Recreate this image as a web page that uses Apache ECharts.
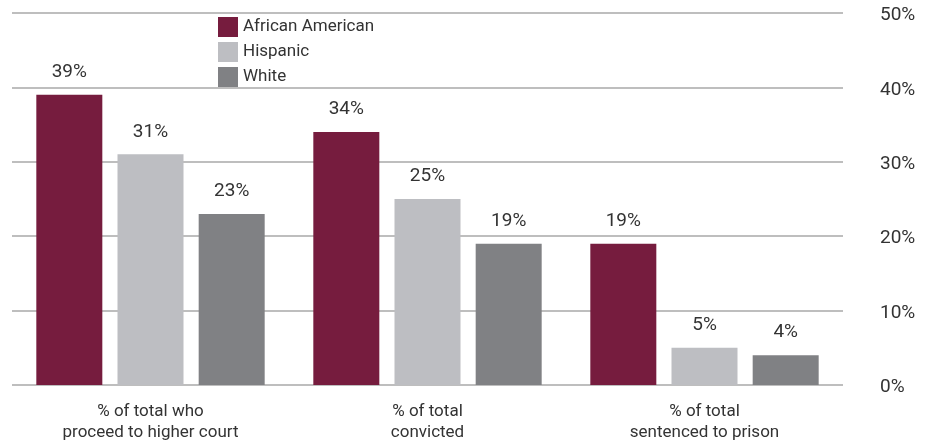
<!DOCTYPE html>
<html><head><meta charset="utf-8">
<script src="https://cdn.jsdelivr.net/npm/echarts@6/dist/echarts.min.js"></script>
<style>html,body{margin:0;padding:0;background:#fff}#c{width:932px;height:444px}</style>
</head><body><div id="c"></div>
<script>
const categories = ['% of total who\nproceed to higher court', '% of total\nconvicted', '% of total\nsentenced to prison'];
const seriesNames = ['African American', 'Hispanic', 'White'];
const africanAmerican = [39, 34, 19];
const hispanic = [31, 25, 5];
const white = [23, 19, 4];
const yTicks = [0, 10, 20, 30, 40, 50];
const colors = ['#761c3e', '#bdbec2', '#808184'];
const FONT = 'Roboto';
const values = [africanAmerican, hispanic, white];

const chart = echarts.init(document.getElementById('c'));
chart.setOption({
  animation: false,
  textStyle: {fontFamily: FONT},
  grid: {left: 12, right: 89, top: 13, bottom: 59},
  legend: {
    orient: 'vertical', left: 213, top: 12,
    itemWidth: 20, itemHeight: 20, itemGap: 5, icon: 'rect',
    textStyle: {fontFamily: FONT, fontSize: 17, color: '#333', padding: [2, 0, 0, 0]},
    data: seriesNames
  },
  xAxis: {
    type: 'category', data: categories,
    axisTick: {show: false},
    axisLine: {show: false},
    axisLabel: {fontFamily: FONT, fontSize: 17, color: '#333', lineHeight: 21, margin: 16}
  },
  yAxis: {
    type: 'value', position: 'right', min: yTicks[0], max: yTicks[yTicks.length - 1], interval: 10,
    axisLine: {show: false}, axisTick: {show: false},
    splitLine: {lineStyle: {color: '#a8a8a8', width: 1.5}},
    axisLabel: {fontFamily: FONT, fontSize: 19, color: '#333', margin: 37, align: 'left',
      verticalAlign: 'top', lineHeight: 5,
      formatter: v => v + '%'}
  },
  series: seriesNames.map((n, i) => ({
    name: n, type: 'bar', data: values[i], barWidth: 66, barGap: '23%',
    itemStyle: {color: colors[i]},
    label: {show: true, position: 'top', distance: 13, formatter: '{c}%',
      fontFamily: FONT, fontSize: 19, color: '#333'}
  }))
});
</script></body></html>
